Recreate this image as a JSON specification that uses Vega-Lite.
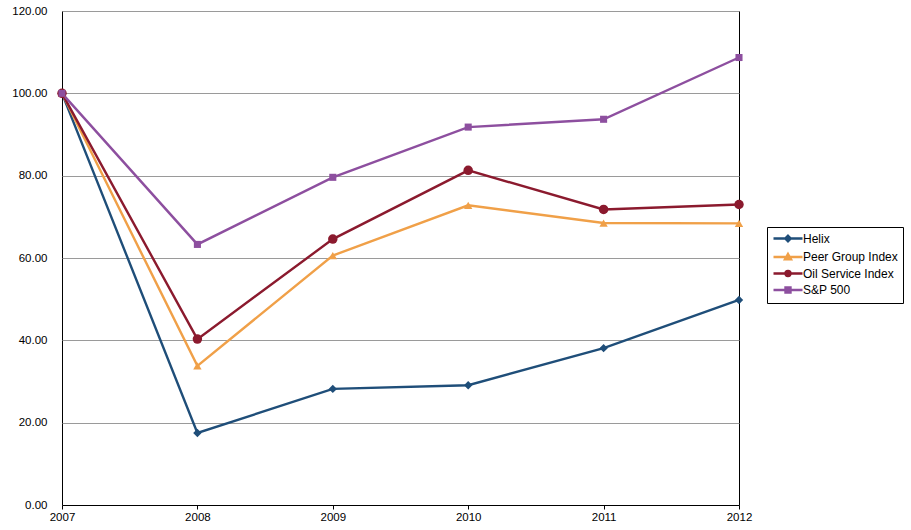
{
  "$schema": "https://vega.github.io/schema/vega-lite/v6.json",
  "width": 677,
  "height": 494,
  "padding": {"left": 10, "top": 5, "right": 5, "bottom": 5},
  "background": "white",
  "config": {
    "font": "Liberation Sans",
    "view": {"stroke": "black", "strokeWidth": 1},
    "axis": {"labelFont": "Liberation Sans", "labelFontSize": 11.5, "labelColor": "black", "domainColor": "black", "tickColor": "black"}
  },
  "data": {
    "values": [
      {"year": 2007, "series": "Helix", "value": 100},
      {"year": 2008, "series": "Helix", "value": 17.5},
      {"year": 2009, "series": "Helix", "value": 28.2},
      {"year": 2010, "series": "Helix", "value": 29.1},
      {"year": 2011, "series": "Helix", "value": 38.1},
      {"year": 2012, "series": "Helix", "value": 49.8},
      {"year": 2007, "series": "Peer Group Index", "value": 100},
      {"year": 2008, "series": "Peer Group Index", "value": 33.8},
      {"year": 2009, "series": "Peer Group Index", "value": 60.6},
      {"year": 2010, "series": "Peer Group Index", "value": 72.8},
      {"year": 2011, "series": "Peer Group Index", "value": 68.5},
      {"year": 2012, "series": "Peer Group Index", "value": 68.4},
      {"year": 2007, "series": "Oil Service Index", "value": 100},
      {"year": 2008, "series": "Oil Service Index", "value": 40.3},
      {"year": 2009, "series": "Oil Service Index", "value": 64.6},
      {"year": 2010, "series": "Oil Service Index", "value": 81.3},
      {"year": 2011, "series": "Oil Service Index", "value": 71.8},
      {"year": 2012, "series": "Oil Service Index", "value": 73.0},
      {"year": 2007, "series": "S&P 500", "value": 100},
      {"year": 2008, "series": "S&P 500", "value": 63.3},
      {"year": 2009, "series": "S&P 500", "value": 79.6},
      {"year": 2010, "series": "S&P 500", "value": 91.8},
      {"year": 2011, "series": "S&P 500", "value": 93.7},
      {"year": 2012, "series": "S&P 500", "value": 108.7}
    ]
  },
  "encoding": {
    "x": {
      "field": "year",
      "type": "quantitative",
      "title": null,
      "scale": {"domain": [2007, 2012], "nice": false, "zero": false},
      "axis": {"values": [2007, 2008, 2009, 2010, 2011, 2012], "format": "d", "grid": false, "tickSize": 4, "labelPadding": 2, "labelFlush": false}
    },
    "y": {
      "field": "value",
      "type": "quantitative",
      "title": null,
      "scale": {"domain": [0, 120], "nice": false},
      "axis": {"values": [0, 20, 40, 60, 80, 100, 120], "format": ".2f", "ticks": false, "labelPadding": 15, "domain": false, "gridColor": "#9a9a9a", "gridWidth": 1, "minExtent": 52, "maxExtent": 52}
    }
  },
  "layer": [
    {
      "mark": {"type": "line", "strokeWidth": 2.4},
      "encoding": {
        "color": {
          "field": "series",
          "type": "nominal",
          "title": null,
          "scale": {
            "domain": ["Helix", "Peer Group Index", "Oil Service Index", "S&P 500"],
            "range": ["#1f4e79", "#f0a048", "#8b1a2e", "#8d4f9f"]
          },
          "legend": {
            "orient": "none",
            "legendX": 705,
            "legendY": 216,
            "strokeColor": "black",
            "fillColor": "white",
            "padding": 5,
            "labelFont": "Liberation Sans",
            "labelFontSize": 12,
            "labelColor": "black",
            "symbolType": "stroke",
            "symbolSize": 100,
            "symbolOffset": 9.5,
            "labelOffset": 8.5,
            "rowPadding": 1.5,
            "symbolStrokeWidth": 2.4,
            "encoding": {
              "symbols": {
                "shape": {"value": {"expr": "datum.value === 'Helix' ? 'M-2.9,0H2.9M0,-0.55L0.55,0L0,0.55L-0.55,0Z' : datum.value === 'Peer Group Index' ? 'M-2.9,0H2.9M0,-0.6L0.6,0.45L-0.6,0.45Z' : datum.value === 'Oil Service Index' ? 'M-2.9,0H2.9M0.5,0A0.5,0.5 0 1,1 -0.5,0A0.5,0.5 0 1,1 0.5,0Z' : 'M-2.9,0H2.9M-0.5,-0.5H0.5V0.5H-0.5Z'"}},
                "fill": {"value": {"expr": "scale('color', datum.value)"}},
                "stroke": {"value": {"expr": "scale('color', datum.value)"}}
              }
            }
          }
        }
      }
    },
    {
      "transform": [{"filter": "datum.series === 'Helix'"}],
      "mark": {"type": "point", "filled": true, "opacity": 1, "shape": "diamond", "size": 70},
      "encoding": {"color": {"field": "series", "type": "nominal", "legend": null}}
    },
    {
      "transform": [{"filter": "datum.series === 'Peer Group Index'"}],
      "mark": {"type": "point", "filled": true, "opacity": 1, "shape": "triangle-up", "size": 70},
      "encoding": {"color": {"field": "series", "type": "nominal", "legend": null}}
    },
    {
      "transform": [{"filter": "datum.series === 'Oil Service Index'"}],
      "mark": {"type": "point", "filled": true, "opacity": 1, "shape": "circle", "size": 90},
      "encoding": {"color": {"field": "series", "type": "nominal", "legend": null}}
    },
    {
      "transform": [{"filter": "datum.series === 'S&P 500'"}],
      "mark": {"type": "point", "filled": true, "opacity": 1, "shape": "square", "size": 50},
      "encoding": {"color": {"field": "series", "type": "nominal", "legend": null}}
    }
  ]
}
